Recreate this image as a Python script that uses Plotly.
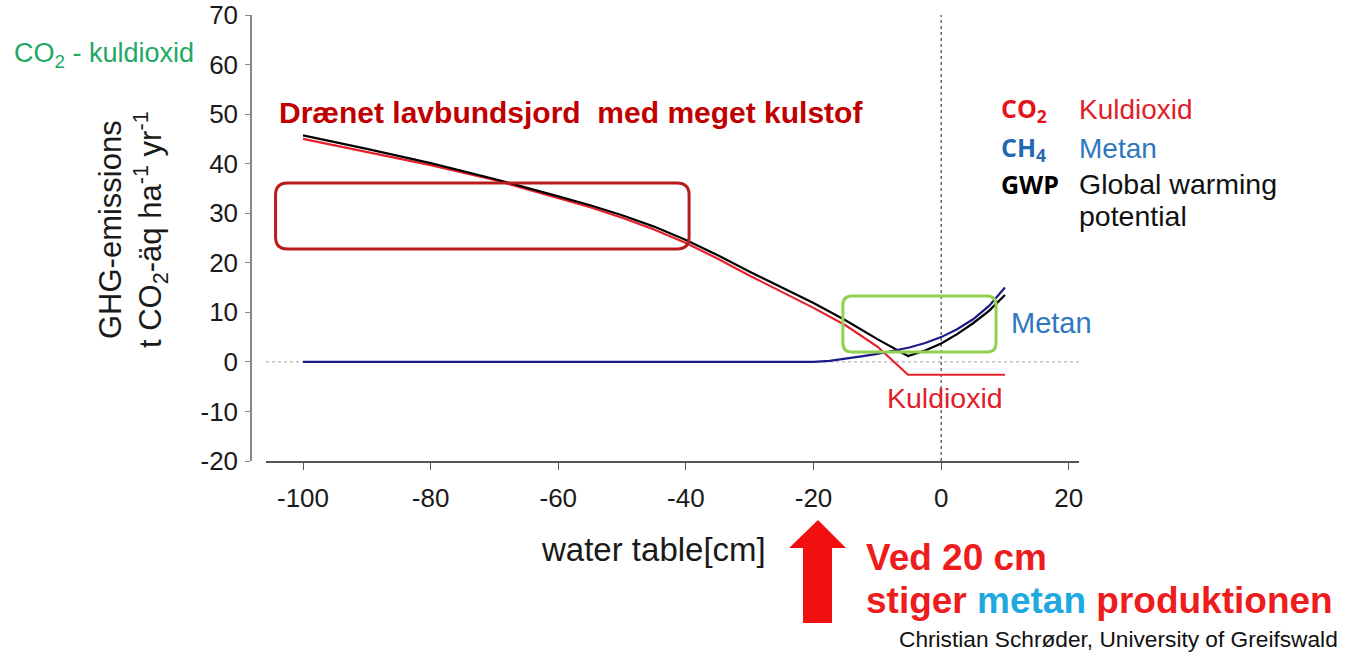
import plotly.graph_objects as go

# ---------------- data ----------------
co2_x = [-100, -90, -80, -70, -60, -55, -50, -45, -40, -35, -30, -25, -20, -15, -10, -5.2, 10]
co2_y = [45.0, 42.4, 39.7, 36.7, 33.1, 31.2, 29.1, 26.7, 24.0, 20.8, 17.4, 14.2, 10.9, 7.4, 3.1, -2.6, -2.6]

gwp_x = [-100, -90, -80, -70, -60, -55, -50, -45, -40, -35, -30, -25, -20, -15, -10, -5.2,
         -2.5, 0, 2.5, 5, 7.5, 10]
gwp_y = [45.7, 43.0, 40.1, 36.9, 33.4, 31.6, 29.6, 27.3, 24.6, 21.5, 18.2, 15.1, 11.9, 8.4, 4.6, 1.2,
         2.3, 3.7, 5.6, 7.8, 10.3, 13.5]

ch4_x = [-100, -20, -17.5, -15, -12.5, -10, -7.5, -5, -2.5, 0, 2.5, 5, 7.5, 10]
ch4_y = [0, 0, 0.2, 0.6, 1.1, 1.6, 2.2, 2.9, 3.8, 5.0, 6.6, 8.6, 11.3, 15.0]

x_ticks = [-100, -80, -60, -40, -20, 0, 20]
x_tick_labels = ["-100", "-80", "-60", "-40", "-20", "0", "20"]
y_ticks = [-20, -10, 0, 10, 20, 30, 40, 50, 60, 70]
y_tick_labels = ["-20", "-10", "0", "10", "20", "30", "40", "50", "60", "70"]

# ---------------- helpers ----------------
W, H = 1348, 653
def px(x):
    return x / W
def py(y):
    return 1 - y / H

FONT = "Liberation Sans, Arial, sans-serif"

fig = go.Figure()
fig.add_trace(go.Scatter(x=co2_x, y=co2_y, mode="lines", line=dict(color="#e8202a", width=2.2),
                         showlegend=False, hoverinfo="skip"))
fig.add_trace(go.Scatter(x=gwp_x, y=gwp_y, mode="lines", line=dict(color="#000000", width=2.2),
                         showlegend=False, hoverinfo="skip"))
fig.add_trace(go.Scatter(x=ch4_x, y=ch4_y, mode="lines", line=dict(color="#1b1b8a", width=2.2),
                         showlegend=False, hoverinfo="skip"))

XR = [-105.8, 21.6]
YR = [-20, 70]

def rounded_rect(x0, x1, y0, y1, rpx):
    # radius given in pixels, converted to data units
    sx = (1079 - 266) / (XR[1] - XR[0])
    sy = (461 - 15) / (YR[1] - YR[0])
    rx = rpx / sx
    ry = rpx / sy
    return (f"M {x0+rx},{y1} L {x1-rx},{y1} Q {x1},{y1} {x1},{y1-ry} "
            f"L {x1},{y0+ry} Q {x1},{y0} {x1-rx},{y0} "
            f"L {x0+rx},{y0} Q {x0},{y0} {x0},{y0+ry} "
            f"L {x0},{y1-ry} Q {x0},{y1} {x0+rx},{y1} Z")

shapes = [
    dict(type="line", xref="x", yref="y", x0=XR[0], x1=XR[1], y0=0, y1=0,
         line=dict(color="#a0a0a0", width=1, dash="dot"), layer="below"),
    dict(type="line", xref="x", yref="y", x0=0, x1=0, y0=YR[0], y1=YR[1],
         line=dict(color="#222222", width=1, dash="dot"), layer="below"),
    dict(type="path", xref="x", yref="y", path=rounded_rect(-104.3, -39.5, 22.8, 36.1, 12),
         line=dict(color="#b81c1c", width=3)),
    dict(type="path", xref="x", yref="y", path=rounded_rect(-15.4, 8.6, 2.0, 13.3, 9),
         line=dict(color="#92d050", width=3)),
]

arrow_pts = [(818, 520), (846, 548), (832, 548), (832, 623), (803, 623), (803, 548), (789, 548)]
arrow_path = "M " + " L ".join(f"{px(a)},{py(b)}" for a, b in arrow_pts) + " Z"
shapes.append(dict(type="path", xref="paper", yref="paper", path=arrow_path,
                   fillcolor="#f01010", line=dict(color="#f01010", width=0)))

def ann(text, x, y, size, color, xanchor="left", bold=False, family=FONT, angle=0):
    if bold:
        text = f"<b>{text}</b>"
    return dict(text=text, xref="paper", yref="paper", x=px(x), y=py(y), xanchor=xanchor,
                yanchor="middle", showarrow=False, textangle=angle,
                font=dict(size=size, color=color, family=family))

annotations = [
    ann("CO<sub>2</sub> - kuldioxid", 12, 55, 27, "#22a865"),
    ann("Drænet lavbundsjord  med meget kulstof", 277, 113, 30, "#c00000", bold=True),
    ann("CO<sub>2</sub>", 999, 110, 25, "#e3141b", bold=True, family="Open Sans, sans-serif"),
    ann("Kuldioxid", 1077, 110, 28, "#e0202a"),
    ann("CH<sub>4</sub>", 999, 148, 25, "#2468b0", bold=True, family="Open Sans, sans-serif"),
    ann("Metan", 1077, 148, 28, "#2e78c0"),
    ann("GWP", 999, 184, 25, "#000000", bold=True, family="Open Sans, sans-serif"),
    ann("Global warming", 1077, 184, 28.5, "#111111"),
    ann("potential", 1077, 216, 28.5, "#111111"),
    ann("Metan", 1009, 323, 29, "#2e78c0"),
    ann("Kuldioxid", 885, 398, 28.5, "#e0202a"),
    ann("water table[cm]", 653, 549, 33, "#1a1a1a", xanchor="center"),
    ann("GHG-emissions<br>t CO<sub>2</sub>-äq ha<sup>-1</sup> yr<sup>-1</sup>", 133, 230, 31, "#1a1a1a",
        xanchor="center", angle=-90),
    ann("Ved 20 cm", 864, 557, 37, "#ee1c1c", bold=True),
    ann("stiger <span style='color:#1fa9e1'>metan</span> produktionen", 864, 600, 37, "#ee1c1c", bold=True),
    ann("Christian Schrøder, University of Greifswald", 1340, 639, 22.7, "#111111", xanchor="right"),
]

fig.update_layout(
    width=W, height=H,
    margin=dict(l=0, r=0, t=0, b=0, autoexpand=False),
    paper_bgcolor="white", plot_bgcolor="white",
    font=dict(family=FONT, color="#1a1a1a"),
    shapes=shapes, annotations=annotations,
    xaxis=dict(domain=[px(266), px(1079)], range=XR, tickvals=x_ticks, ticktext=x_tick_labels,
               ticks="outside", ticklen=7,
               tickcolor="#555555", showline=True, linecolor="#555555", linewidth=1.5,
               showgrid=False, zeroline=False, tickfont=dict(size=26, color="#1a1a1a"),
               ticklabelstandoff=6, anchor="y", automargin=False),
    yaxis=dict(domain=[py(461), py(15)], range=YR, tickvals=y_ticks, ticktext=y_tick_labels,
               ticks="outside", ticklen=5,
               tickcolor="#888888", showline=True, linecolor="#888888", linewidth=1.5,
               showgrid=False, zeroline=False, tickfont=dict(size=26, color="#1a1a1a"),
               anchor="free", position=px(251), automargin=False, ticklabelstandoff=2),
)

fig.write_html("out.html", config={"displayModeBar": False},
               post_script="document.body.style.margin='0';")
